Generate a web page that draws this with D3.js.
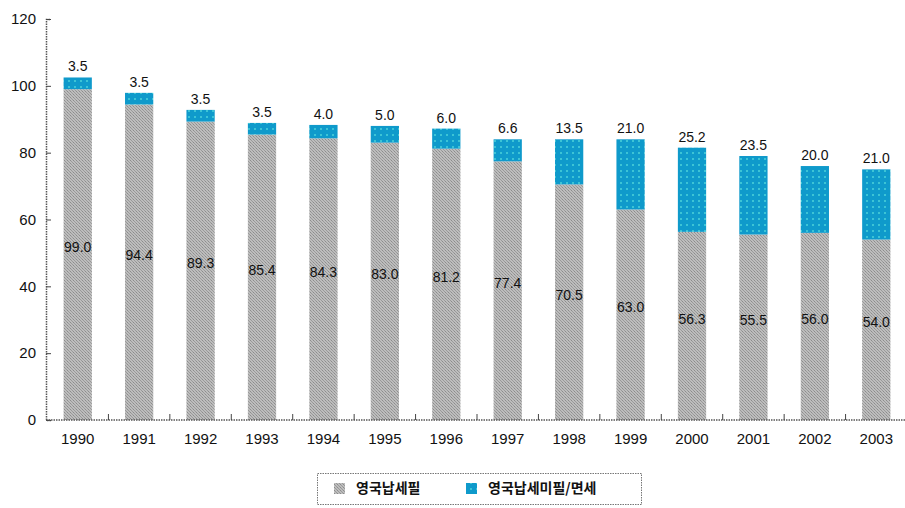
<!DOCTYPE html>
<html><head><meta charset="utf-8">
<script src="https://cdn.jsdelivr.net/npm/d3@7"></script>
<style>body{margin:0;background:#fff}svg{display:block}</style>
</head><body>
<svg id="c" width="905" height="508"></svg>
<script>
const years = ["1990","1991","1992","1993","1994","1995","1996","1997","1998","1999","2000","2001","2002","2003"];
const taxPaid = [99.0,94.4,89.3,85.4,84.3,83.0,81.2,77.4,70.5,63.0,56.3,55.5,56.0,54.0];
const untaxed = [3.5,3.5,3.5,3.5,4.0,5.0,6.0,6.6,13.5,21.0,25.2,23.5,20.0,21.0];
const yTicks = [0,20,40,60,80,100,120];
const seriesNames = ["영국납세필","영국납세미필/면세"];

const svg = d3.select("#c");
const font = "'Liberation Sans', Arial, sans-serif";
const defs = svg.append("defs");
const pg = defs.append("pattern").attr("id","pGray").attr("patternUnits","userSpaceOnUse").attr("width",3).attr("height",3);
pg.append("rect").attr("width",3).attr("height",3).attr("fill","#bdbdbd");
pg.append("rect").attr("x",1).attr("y",1).attr("width",1).attr("height",1).attr("fill","#8c8c8c");
pg.append("rect").attr("x",0).attr("y",0).attr("width",1).attr("height",1).attr("fill","#9a9a9a");
pg.append("rect").attr("x",2).attr("y",2).attr("width",1).attr("height",1).attr("fill","#9a9a9a");
const pb = defs.append("pattern").attr("id","pBlue").attr("patternUnits","userSpaceOnUse").attr("width",6).attr("height",6);
pb.append("rect").attr("width",6).attr("height",6).attr("fill","#0f9acb");
pb.append("rect").attr("x",2).attr("y",2).attr("width",2).attr("height",2).attr("fill","#3cc4d6");

const x = d3.scaleBand().domain(years).range([47,907]).paddingInner(0.54).paddingOuter(0.27);
const y = d3.scaleLinear().domain([0,120]).range([420,19]);

const g = svg.append("g");
years.forEach((yr,i)=>{
  const x0 = x(yr), w = x.bandwidth();
  const a = taxPaid[i], b = untaxed[i];
  g.append("rect").attr("x",x0).attr("width",w).attr("y",y(a)).attr("height",y(0)-y(a)).attr("fill","url(#pGray)");
  g.append("rect").attr("x",x0).attr("width",w).attr("y",y(a+b)).attr("height",y(a)-y(a+b)).attr("fill","url(#pBlue)");
  g.append("text").attr("x",x0+w/2).attr("y",y(a+b)-6).attr("text-anchor","middle")
    .attr("font-family",font).attr("font-size",14).attr("fill","#111").text(b.toFixed(1));
  g.append("text").attr("x",x0+w/2).attr("y",(y(a)+y(0))/2-6).attr("text-anchor","middle").attr("dominant-baseline","middle")
    .attr("font-family",font).attr("font-size",14).attr("fill","#111").text(a.toFixed(1));
});

const ya = svg.append("g").attr("transform","translate(46,0)")
  .call(d3.axisRight(y).tickValues(yTicks).tickSize(5).tickFormat(d3.format("d")));
ya.select(".domain").attr("stroke","#555").attr("stroke-dasharray","1.5,1").attr("stroke-width",1.5);
ya.selectAll(".tick line").attr("stroke","#444");
ya.selectAll(".tick text").attr("x",-10).attr("text-anchor","end").attr("font-family",font).attr("font-size",15).attr("fill","#111");

const xa = svg.append("g").attr("transform","translate(0,420)")
  .call(d3.axisBottom(x).tickSize(0).tickPadding(13));
xa.select(".domain").attr("d","M46,0H905").attr("stroke","#555").attr("stroke-dasharray","1.5,1").attr("stroke-width",1.5);
xa.selectAll(".tick text").attr("font-family",font).attr("font-size",15).attr("fill","#111");
const step = x.step();
years.slice(0,-1).forEach(yr=>{
  const sx = x(yr)+x.bandwidth()/2+step/2;
  xa.append("line").attr("x1",sx).attr("x2",sx).attr("y1",0).attr("y2",-6).attr("stroke","#444");
});

const lg = svg.append("g");
lg.append("rect").attr("x",317.5).attr("y",473.5).attr("width",324).attr("height",31)
  .attr("fill","none").attr("stroke","#777").attr("stroke-dasharray","1.5,1");
const items = [{n:seriesNames[0],f:"url(#pGray)",x:334},{n:seriesNames[1],f:"url(#pBlue)",x:466}];
items.forEach(it=>{
  lg.append("rect").attr("x",it.x).attr("y",483).attr("width",11).attr("height",11).attr("fill",it.f);
  lg.append("text").attr("x",it.x+22).attr("y",489).attr("dominant-baseline","middle")
    .attr("font-family","'Noto Sans CJK KR', sans-serif").attr("font-size",14).attr("font-weight","bold").attr("fill","#111").text(it.n);
});
</script>
</body></html>
